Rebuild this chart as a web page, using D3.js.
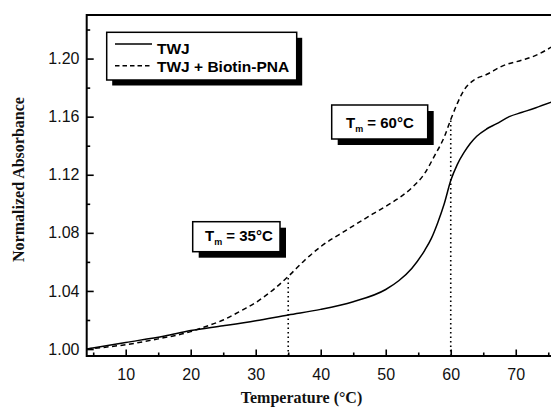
<!DOCTYPE html>
<html>
<head>
<meta charset="utf-8">
<script src="https://cdn.jsdelivr.net/npm/d3@7"></script>
<style>
  html, body { margin: 0; padding: 0; background: #fff; }
  svg { display: block; }
</style>
</head>
<body>
<svg id="chart" width="551" height="415"></svg>
<script>
// ---- data ----
const twjTemp = [4, 10, 16, 20, 25, 30, 35, 40, 45, 50, 52, 54, 56, 57, 58, 59, 60, 61, 62, 63, 64, 65.5, 67, 69, 71, 73, 75.5];
const twjAbs  = [1.000, 1.0045, 1.009, 1.0127, 1.016, 1.0195, 1.0235, 1.0273, 1.0326, 1.041, 1.047, 1.0555, 1.068, 1.076, 1.087, 1.100, 1.116, 1.127, 1.135, 1.1415, 1.1465, 1.1515, 1.155, 1.160, 1.163, 1.166, 1.170];
const pnaTemp = [4, 10, 15, 20, 22, 25, 28, 30, 33, 35, 37.5, 40, 44, 48, 51, 54, 56, 57.5, 59, 60, 61, 62, 63.5, 65.5, 68, 71, 73, 75.5];
const pnaAbs  = [1.000, 1.003, 1.007, 1.012, 1.015, 1.020, 1.027, 1.032, 1.042, 1.050, 1.061, 1.0705, 1.082, 1.093, 1.101, 1.111, 1.121, 1.133, 1.146, 1.158, 1.169, 1.178, 1.185, 1.189, 1.195, 1.199, 1.202, 1.208];
const tmValues = [35, 60];
const tmLabels = ["35°C", "60°C"];
const seriesNames = ["TWJ", "TWJ + Biotin-PNA"];
const xMajorTicks = [10, 20, 30, 40, 50, 60, 70];
const xMinorTicks = [5, 15, 25, 35, 45, 55, 65, 75];
const yMajorTicks = [1.00, 1.04, 1.08, 1.12, 1.16, 1.20];
const yMinorTicks = [1.02, 1.06, 1.10, 1.14, 1.18, 1.22];

// ---- layout ----
const svg = d3.select("#chart");
const L = 86.7, T = 15, B = 356, R = 551.5;
const x = d3.scaleLinear().domain([4, 75.5]).range([L, R]);
const y = d3.scaleLinear().domain([0.9952, 1.23]).range([B, T]);

const sans = "'Liberation Sans', Arial, sans-serif";
const serif = "'Liberation Serif', 'Times New Roman', serif";

// axes
const xAxis = svg.append("g").attr("transform", `translate(0,${B})`)
  .call(d3.axisBottom(x).tickValues(xMajorTicks).tickSize(-6.5).tickPadding(12.6).tickFormat(d3.format("d")));
const xMinor = svg.append("g").attr("transform", `translate(0,${B})`)
  .call(d3.axisBottom(x).tickValues(xMinorTicks).tickSize(-3.5).tickFormat(""));
const yAxis = svg.append("g").attr("transform", `translate(${L},0)`)
  .call(d3.axisLeft(y).tickValues(yMajorTicks).tickSize(-7).tickPadding(7.2).tickFormat(d3.format(".2f")));
const yMinor = svg.append("g").attr("transform", `translate(${L},0)`)
  .call(d3.axisLeft(y).tickValues(yMinorTicks).tickSize(-3.5).tickFormat(""));

[xAxis, xMinor, yAxis, yMinor].forEach(g => {
  g.select(".domain").remove();
  g.selectAll(".tick line").attr("stroke", "#000").attr("stroke-width", 1.6);
  g.selectAll("text").attr("font-family", sans).attr("font-size", 16).attr("fill", "#111");
});

// frame
svg.append("rect").attr("x", L).attr("y", T).attr("width", 600 - L).attr("height", B - T)
  .attr("fill", "none").attr("stroke", "#000").attr("stroke-width", 2);

// axis titles
svg.append("text").attr("transform", `translate(23.5,179.5) rotate(-90)`)
  .attr("text-anchor", "middle").attr("font-family", serif).attr("font-weight", "bold")
  .attr("font-size", 16).attr("fill", "#111").text("Normalized Absorbance");
svg.append("text").attr("x", 301.5).attr("y", 403)
  .attr("text-anchor", "middle").attr("font-family", serif).attr("font-weight", "bold")
  .attr("font-size", 16).attr("fill", "#111").text("Temperature (°C)");

// curves
const line = d3.line().x(d => x(d[0])).y(d => y(d[1])).curve(d3.curveMonotoneX);
svg.append("clipPath").attr("id", "clip").append("rect")
  .attr("x", L).attr("y", T).attr("width", R - L).attr("height", B - T);
const plot = svg.append("g").attr("clip-path", "url(#clip)");
plot.append("path").datum(d3.zip(twjTemp, twjAbs)).attr("d", line)
  .attr("fill", "none").attr("stroke", "#000").attr("stroke-width", 1.5);
plot.append("path").datum(d3.zip(pnaTemp, pnaAbs)).attr("d", line)
  .attr("fill", "none").attr("stroke", "#000").attr("stroke-width", 1.5).attr("stroke-dasharray", "5,3.5");

// dotted Tm lines up to the PNA curve
const pnaInterp = t => {
  const i = d3.bisectLeft(pnaTemp, t);
  if (pnaTemp[i] === t) return pnaAbs[i];
  const t0 = pnaTemp[i - 1], t1 = pnaTemp[i];
  return pnaAbs[i - 1] + (pnaAbs[i] - pnaAbs[i - 1]) * (t - t0) / (t1 - t0);
};
tmValues.forEach(t => {
  plot.append("line").attr("x1", x(t)).attr("x2", x(t)).attr("y1", B).attr("y2", y(pnaInterp(t)))
    .attr("stroke", "#000").attr("stroke-width", 1.6).attr("stroke-dasharray", "1.5,3");
});

// boxed labels with shadow
function shadowBox(bx, by, bw, bh, off) {
  svg.append("rect").attr("x", bx + off).attr("y", by + off).attr("width", bw).attr("height", bh).attr("fill", "#000");
  svg.append("rect").attr("x", bx).attr("y", by).attr("width", bw).attr("height", bh)
    .attr("fill", "#fff").attr("stroke", "#000").attr("stroke-width", 1.5);
}

// legend
shadowBox(106.7, 32.3, 190, 47.7, 5.5);
svg.append("line").attr("x1", 115).attr("x2", 152).attr("y1", 44).attr("y2", 44)
  .attr("stroke", "#000").attr("stroke-width", 1.5);
svg.append("line").attr("x1", 115).attr("x2", 152).attr("y1", 65.7).attr("y2", 65.7)
  .attr("stroke", "#000").attr("stroke-width", 1.5).attr("stroke-dasharray", "4.5,3");
svg.append("text").attr("x", 157).attr("y", 53.5).attr("font-family", sans).attr("font-weight", "bold")
  .attr("font-size", 15.5).attr("fill", "#000").text(seriesNames[0]);
svg.append("text").attr("x", 157).attr("y", 71.5).attr("font-family", sans).attr("font-weight", "bold")
  .attr("font-size", 15.5).attr("fill", "#000").text(seriesNames[1]);

// Tm boxes
function tmBox(bx, by, bw, bh, tx, ty, label) {
  shadowBox(bx, by, bw, bh, 6);
  const t = svg.append("text").attr("x", tx).attr("y", ty).attr("font-family", sans)
    .attr("font-weight", "bold").attr("font-size", 15).attr("fill", "#000");
  t.append("tspan").text("T");
  t.append("tspan").attr("font-size", 9).attr("dy", 4).text("m");
  t.append("tspan").attr("dy", -4).text(" = " + label);
}
tmBox(192.7, 221.7, 87.3, 30, 205, 241, tmLabels[0]);
tmBox(331.7, 105, 96, 34, 346, 127.5, tmLabels[1]);
</script>
</body>
</html>
